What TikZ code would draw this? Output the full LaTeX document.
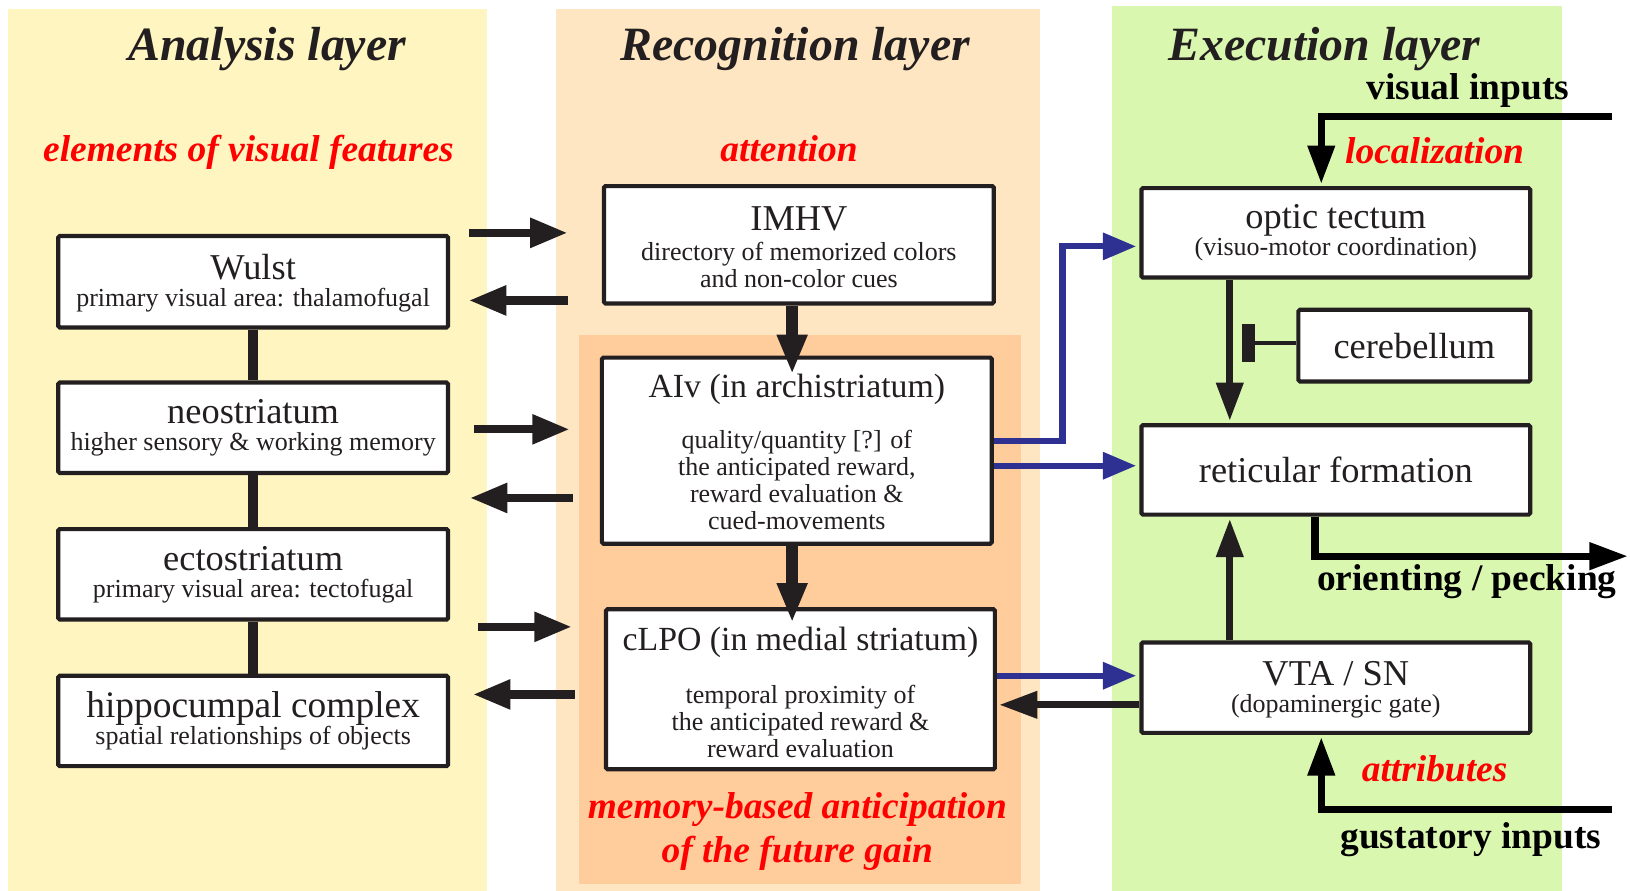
\documentclass[tikz,border=0pt]{standalone}
\usepackage{fontspec}
\setmainfont{Liberation Serif}
\usetikzlibrary{arrows.meta}
\definecolor{ink}{RGB}{35,31,32}
\definecolor{ayellow}{RGB}{255,245,192}
\definecolor{rpeach}{RGB}{255,230,194}
\definecolor{rorange}{RGB}{255,204,156}
\definecolor{egreen}{RGB}{218,247,176}
\definecolor{lblue}{RGB}{46,49,146}
\definecolor{lred}{RGB}{255,0,0}
\newcommand\bigtxt{\fontsize{35}{26}\selectfont}
\newcommand\midtxt{\fontsize{32.5}{26}\selectfont}
\tikzset{
  box/.style={draw=ink, fill=white, line width=4pt, rounded corners=1.5pt, inner sep=0pt,
    align=center, text=ink, font=\fontsize{25}{26}\selectfont},
  ttl/.style={text=ink, font=\fontsize{46}{50}\selectfont\bfseries\itshape, anchor=base, inner sep=0pt},
  redlbl/.style={text=lred, font=\fontsize{36}{43}\selectfont\bfseries\itshape, anchor=base, inner sep=0pt},
  blklbl/.style={text=black, font=\fontsize{36}{40}\selectfont\bfseries, anchor=base, inner sep=0pt},
  link/.style={draw=ink, line width=10pt},
  harrow/.style={draw=ink, line width=8pt, -{Triangle[length=36pt,width=27pt]}},
  varrow/.style={draw=ink, line width=11pt, -{Triangle[length=38pt,width=27pt]}},
  earrow/.style={draw=ink, line width=7pt, -{Triangle[length=37pt,width=25pt]}},
  inarrow/.style={draw=black, line width=7pt, -{Triangle[length=37pt,width=25pt]}},
  barrow/.style={draw=lblue, line width=6pt, -{Triangle[length=32pt,width=25pt]}}
}
\begin{document}
\begin{tikzpicture}[x=1pt,y=-1pt]
\useasboundingbox (0,0) rectangle (1568,857);
% panels
\fill[ayellow] (8,9) rectangle (468,857);
\fill[rpeach] (535,9) rectangle (1000,857);
\fill[rorange] (557,322) rectangle (982,850);
\fill[egreen] (1070,6) rectangle (1503,857);

% titles
\node[ttl] (t1) at (257,58) {Analysis layer};
\node[ttl] (t2) at (765,58) {Recognition layer};
\node[ttl] (t3) at (1274,58) {Execution layer};

% red labels
\node[redlbl] (r1) at (239,155) {elements of visual features};
\node[redlbl] (r2) at (759,155) {attention};
\node[redlbl] (r3) at (1380,157) {localization};
\node[redlbl] (r4) at (1380,752) {attributes};
\node[redlbl] (r5) at (767,787) {memory-based anticipation};
\node[redlbl] (r6) at (767,830) {of the future gain};

% black labels
\node[blklbl] (b1) at (1412,96) {visual inputs};
\node[blklbl] (b2) at (1411,568) {orienting / pecking};
\node[blklbl] (b3) at (1415,816) {gustatory inputs};

% analysis boxes
\node[box, minimum width=375pt, minimum height=88pt] (wulst) at (243.5,271)
  {{\bigtxt Wulst}\rule{0pt}{27pt}\\primary visual area: thalamofugal};
\node[box, minimum width=375pt, minimum height=87pt] (neo) at (243.5,411.5)
  {{\bigtxt neostriatum}\\higher sensory \& working memory};
\node[box, minimum width=375pt, minimum height=87pt] (ecto) at (243.5,552.5)
  {{\bigtxt ectostriatum}\\primary visual area: tectofugal};
\node[box, minimum width=375pt, minimum height=87pt] (hippo) at (243.5,693.5)
  {{\fontsize{36}{26}\selectfont hippocumpal complex}\\spatial relationships of objects};

% recognition boxes
\node[box, minimum width=375pt, minimum height=113pt] (imhv) at (768.5,235.5)
  {{\bigtxt IMHV}\rule{0pt}{28pt}\\[3pt]directory of memorized colors\\and non-color cues};
\node[box, minimum width=375pt, minimum height=179pt] (aiv) at (766.5,433.5)
  {{\midtxt AIv (in archistriatum)}\rule{0pt}{31pt}\\[23pt]quality/quantity [?] of\\the anticipated reward,\\reward evaluation \&\\cued-movements\vphantom{y}};
\node[box, minimum width=374pt, minimum height=154pt] (clpo) at (770,663)
  {{\midtxt cLPO (in medial striatum)}\rule{0pt}{34pt}\\[25pt]temporal proximity of\\the anticipated reward \&\\reward evaluation\vphantom{y}};

% execution boxes
\node[box, minimum width=374pt, minimum height=86pt] (ot) at (1285,224)
  {{\bigtxt optic tectum}\\[0pt](visuo-motor coordination)};
\node[box, minimum width=223pt, minimum height=69pt, font=\fontsize{35}{40}\selectfont] (cereb) at (1360.5,332.5)
  {cerebellum};
\node[box, minimum width=374pt, minimum height=86pt, font=\fontsize{35}{40}\selectfont] (ret) at (1285,452)
  {reticular formation};
\node[box, minimum width=374pt, minimum height=87pt] (vta) at (1285,661.5)
  {{\bigtxt VTA / SN}\rule{0pt}{27pt}\\(dopaminergic gate)};

% analysis column links
\draw[link] (wulst.south) -- (neo.north);
\draw[link] (neo.south) -- (ecto.north);
\draw[link] (ecto.south) -- (hippo.north);

% arrows between analysis and recognition
\coordinate (a1s) at (451,224); \coordinate (a1e) at (546,224);
\coordinate (a2s) at (546,289); \coordinate (a2e) at (451,289);
\coordinate (a3s) at (456,413); \coordinate (a3e) at (548,413);
\coordinate (a4s) at (551,479); \coordinate (a4e) at (452,479);
\coordinate (a5s) at (460,603); \coordinate (a5e) at (550,603);
\coordinate (a6s) at (553,668); \coordinate (a6e) at (455,668);
\draw[harrow] (a1s) -- (a1e);
\draw[harrow] (a2s) -- (a2e);
\draw[harrow] (a3s) -- (a3e);
\draw[harrow] (a4s) -- (a4e);
\draw[harrow] (a5s) -- (a5e);
\draw[harrow] (a6s) -- (a6e);

% recognition vertical arrows
\draw[varrow] ([xshift=-6.5pt]imhv.south) -- ([xshift=-4.5pt,yshift=-18pt]aiv.north);
\draw[varrow] ([xshift=-4.5pt]aiv.south) -- ([xshift=-8pt,yshift=-15pt]clpo.north);

% blue arrows
\draw[barrow] (aiv.east |- 0,424) -- (1022,424) -- (1022,237) -- ([xshift=-3pt]ot.west |- 0,237);
\draw[barrow] (aiv.east |- 0,448) -- ([xshift=-3pt]ret.west |- 0,448);
\draw[barrow] (clpo.east |- 0,650) -- ([xshift=-3pt]vta.west |- 0,650);
\draw[earrow] (vta.west |- 0,678) -- ([xshift=2pt]clpo.east |- 0,678);

% execution arrows
\coordinate (vin) at (1551,112);
\coordinate (gin) at (1551,779);
\coordinate (orient) at (1566,535);
\draw[inarrow] (vin) -| ([xshift=-14pt,yshift=2pt]ot.north);
\draw[inarrow] (gin) -| ([xshift=-14pt,yshift=-2pt]vta.south);
\draw[inarrow] ([xshift=-20pt]ret.south) |- (orient);
\draw[earrow] ([xshift=-102pt]ot.south) -- ([xshift=-102pt,yshift=2pt]ret.north);
\draw[earrow] ([xshift=-102pt]vta.north) -- ([xshift=-102pt,yshift=-2pt]ret.south);

% cerebellum inhibition
\node[fill=ink, minimum width=12pt, minimum height=37pt, inner sep=0pt] (bar) at (1201,330) {};
\draw[ink, line width=3pt] (cereb.west |- 0,330) -- (bar.east);
\end{tikzpicture}
\end{document}
